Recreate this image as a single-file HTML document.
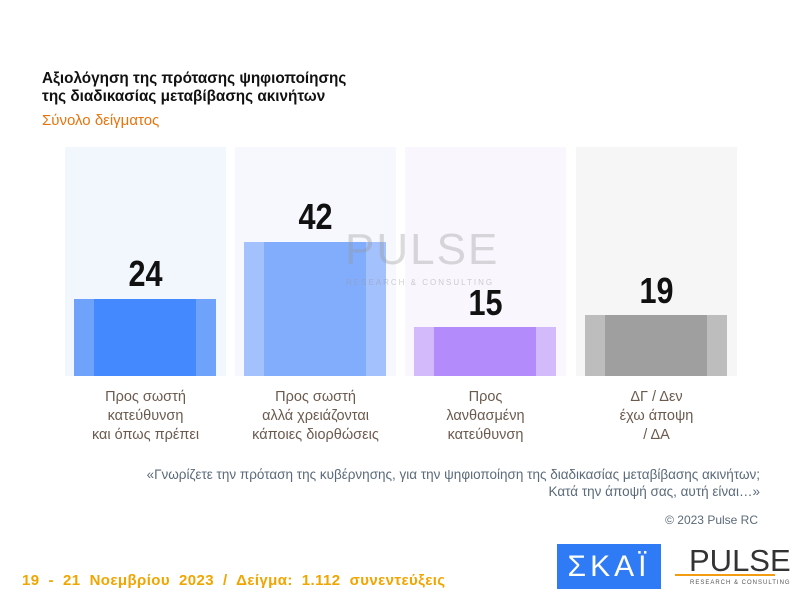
<!DOCTYPE html>
<html><head><meta charset="utf-8"><style>
body{margin:0;width:800px;height:605px;background:#fff;position:relative;overflow:hidden;font-family:"Liberation Sans","DejaVu Sans",sans-serif}
.a{position:absolute;white-space:nowrap}
.t{left:42px;font-weight:bold;font-size:15.3px;color:#111;line-height:18px}
.p{position:absolute;top:147px;height:229px;width:161px}
.bar{position:absolute;bottom:0;left:9px;width:142px}
.bar i{position:absolute;top:0;bottom:0;left:20px;right:20px}
.v{position:absolute;width:161px;text-align:center;font-weight:bold;font-size:36px;color:#111;transform:scaleX(0.85)}
.l{position:absolute;top:388px;width:161px;text-align:center;font-size:14.5px;line-height:19px;color:#6b5a4e}
</style></head><body>
<div class="a t" style="top:70px">Αξιολόγηση της πρότασης ψηφιοποίησης<br>της διαδικασίας μεταβίβασης ακινήτων</div>
<div class="a" style="left:42px;top:112px;font-size:15px;color:#e8730c">Σύνολο δείγματος</div>

<div class="p" style="left:65px;background:#f2f7fe"><div class="bar" style="height:77px;background:#6fa3fb"><i style="background:#4589ff"></i></div><div class="v" style="top:106px">24</div></div>
<div class="p" style="left:235px;background:#f6f8fe"><div class="bar" style="height:134px;background:#a3c1fd"><i style="background:#82adfd"></i></div><div class="v" style="top:49px">42</div></div>
<div class="p" style="left:405px;background:#f9f6fe"><div class="bar" style="height:49px;background:#d3bbfb"><i style="background:#b48bfb"></i></div><div class="v" style="top:135px">15</div></div>
<div class="p" style="left:576px;background:#f6f6f6"><div class="bar" style="height:61px;background:#bdbdbd"><i style="background:#9f9f9f"></i></div><div class="v" style="top:123px">19</div></div>

<div class="a" style="left:345px;top:225px;font-size:44px;color:rgba(150,150,150,.35);letter-spacing:2px">PULSE</div>
<div class="a" style="left:346px;top:278px;font-size:8px;color:rgba(150,150,150,.45);letter-spacing:2px">RESEARCH &amp; CONSULTING</div>

<div class="l" style="left:65px">Προς σωστή<br>κατεύθυνση<br>και όπως πρέπει</div>
<div class="l" style="left:235px">Προς σωστή<br>αλλά χρειάζονται<br>κάποιες διορθώσεις</div>
<div class="l" style="left:405px">Προς<br>λανθασμένη<br>κατεύθυνση</div>
<div class="l" style="left:576px">ΔΓ / Δεν<br>έχω άποψη<br>/ ΔΑ</div>

<div class="a" style="right:40px;top:466px;text-align:right;font-size:13.5px;line-height:17px;color:#5a6a7a">«Γνωρίζετε την πρόταση της κυβέρνησης, για την ψηφιοποίηση της διαδικασίας μεταβίβασης ακινήτων;<br>Κατά την άποψή σας, αυτή είναι…»</div>
<div class="a" style="right:42px;top:513px;font-size:12px;color:#5a6a7a">© 2023 Pulse RC</div>

<div class="a" style="left:557px;top:544px;width:104px;height:45px;background:#2f7bf5;color:#fff;font-size:30px;text-align:center;line-height:45px;letter-spacing:4px">ΣΚΑΪ</div>
<div class="a" style="left:689px;top:543px;font-size:31px;color:#333">PULSE</div>
<div class="a" style="left:675px;top:574px;width:100px;height:2px;background:#f39c12"></div>
<div class="a" style="left:690px;top:580px;font-size:6px;color:#555;letter-spacing:1px">RESEARCH &amp; CONSULTING</div>

<div class="a" style="left:22px;top:572px;font-size:15px;font-weight:bold;color:#f0a500;word-spacing:4.5px;letter-spacing:0.4px">19 - 21 Νοεμβρίου 2023 / Δείγμα: 1.112 συνεντεύξεις</div>
</body></html>
